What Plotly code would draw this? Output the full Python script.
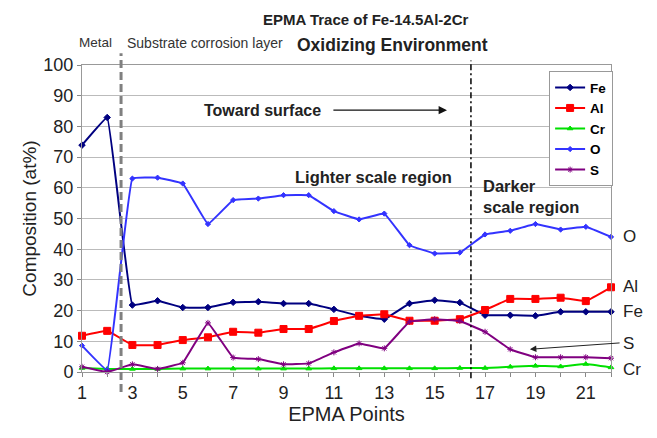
import plotly.graph_objects as go

points = list(range(1, 23))
fe = [73.9, 82.9, 21.8, 23.2, 21.0, 21.0, 22.7, 22.9, 22.3, 22.3, 20.4, 18.3,
      17.2, 22.3, 23.4, 22.6, 18.5, 18.5, 18.3, 19.6, 19.6, 19.6]
al = [11.8, 13.4, 8.8, 8.8, 10.4, 11.3, 13.1, 12.8, 14.0, 14.0, 16.6, 18.3,
      18.8, 16.7, 16.7, 17.2, 20.2, 23.8, 23.8, 24.2, 23.1, 27.6]
cr = [1.3, 1.0, 1.0, 1.0, 1.1, 1.1, 1.1, 1.1, 1.1, 1.1, 1.2, 1.2,
      1.2, 1.2, 1.2, 1.3, 1.3, 1.7, 2.0, 1.8, 2.6, 1.5]
o = [8.6, 0.6, 63.0, 63.3, 61.4, 48.2, 56.0, 56.5, 57.6, 57.6, 52.4, 49.7,
     51.6, 41.3, 38.6, 38.9, 44.8, 46.0, 48.2, 46.4, 47.3, 44.0]
s = [1.7, 0.0, 2.5, 1.0, 3.0, 16.0, 4.7, 4.2, 2.5, 2.8, 6.4, 9.3,
     7.7, 16.4, 17.2, 16.6, 13.1, 7.4, 4.8, 4.8, 4.8, 4.5]

tick_vals = list(range(1, 23))
tick_text = [str(v) if v % 2 == 1 else "" for v in tick_vals]
y_ticks = list(range(0, 101, 10))

FONT = "Liberation Sans, Arial, sans-serif"

series = [
    ("Fe", fe, "#000080", "diamond", 5),
    ("Al", al, "#FF0000", "square", 7),
    ("Cr", cr, "#00E000", "triangle-up", 5),
    ("O", o, "#3333FF", "diamond", 4),
    ("S", s, "#800080", "asterisk-open", 5),
]

fig = go.Figure()
for name, vals, color, sym, size in series:
    fig.add_trace(go.Scatter(
        x=points, y=vals, name=name, mode="lines+markers",
        line=dict(color=color, width=2, shape="spline", smoothing=0.2),
        marker=dict(symbol=sym, size=size, color=color,
                    line=dict(color=color, width=1)),
        cliponaxis=False,
    ))

fig.update_layout(
    width=657, height=438,
    margin=dict(l=82, r=46, t=65, b=66),
    paper_bgcolor="white", plot_bgcolor="white",
    font=dict(family=FONT, color="#111111"),
    showlegend=True,
    legend=dict(
        x=0.883, y=0.98, xanchor="left", yanchor="top",
        bgcolor="white", bordercolor="#999999", borderwidth=1,
        font=dict(size=13.5, family=FONT, color="#000000", weight="bold"),
        itemwidth=30, tracegroupgap=0,
    ),
)

fig.update_xaxes(
    range=[1, 22], tickvals=tick_vals, ticktext=tick_text,
    ticks="outside", ticklen=4, tickcolor="#888888",
    showline=True, linecolor="#999999", linewidth=1, mirror=True,
    showgrid=False, zeroline=False, automargin=False,
    tickfont=dict(size=18, family=FONT, color="#222222"),
    title=dict(text="EPMA Points", font=dict(size=20, family=FONT, color="#222222"),
               standoff=5),
)
fig.update_yaxes(
    range=[0, 100], tickvals=y_ticks,
    ticks="outside", ticklen=4, tickcolor="#888888",
    showline=True, linecolor="#999999", linewidth=1, mirror=True,
    showgrid=True, gridcolor="#BBBBBB", gridwidth=1, zeroline=False, automargin=False,
    tickfont=dict(size=18, family=FONT, color="#222222"),
    title=dict(text="Composition (at%)", font=dict(size=19, family=FONT, color="#222222"),
               standoff=1),
)

# vertical boundary lines
fig.add_shape(type="line", xref="x", yref="paper", x0=2.55, x1=2.55, y0=-0.065, y1=1.038,
              line=dict(color="#808080", width=3, dash="8px,4px"))
fig.add_shape(type="line", xref="x", yref="paper", x0=16.44, x1=16.44, y0=-0.02, y1=1.015,
              line=dict(color="#000000", width=1.5, dash="6px,3px,2px,3px"))

# titles
fig.add_annotation(text="<b>EPMA Trace of Fe-14.5Al-2Cr</b>", xref="paper", yref="paper",
                   x=(366 - 82) / 529, y=(372 - 20) / 307, xanchor="center", yanchor="middle",
                   showarrow=False, font=dict(size=15, family=FONT, color="#222222"))
fig.add_annotation(text="<b>Oxidizing Environment</b>", xref="paper", yref="paper",
                   x=(392 - 82) / 529, y=(372 - 45) / 307, xanchor="center", yanchor="middle",
                   showarrow=False, font=dict(size=17.5, family=FONT, color="#222222"))

# small labels above the plot
fig.add_annotation(text="Metal", xref="paper", yref="paper",
                   x=(77 - 82) / 529, y=(372 - 43) / 307, xanchor="left", yanchor="middle",
                   showarrow=False, font=dict(size=13.5, family=FONT, color="#333333"))
fig.add_annotation(text="Substrate corrosion layer", xref="paper", yref="paper",
                   x=(125 - 82) / 529, y=(372 - 43) / 307, xanchor="left", yanchor="middle",
                   showarrow=False, font=dict(size=14, family=FONT, color="#333333"))
fig.add_annotation(x=1.87, y=103.2, ax=2.43, ay=103.2, xref="x", yref="y", axref="x", ayref="y",
                   text="", showarrow=True, arrowhead=2, arrowsize=1, arrowwidth=1.2,
                   arrowcolor="#111111")
fig.add_annotation(x=3.42, y=103.2, ax=2.71, ay=103.2, xref="x", yref="y", axref="x", ayref="y",
                   text="", showarrow=True, arrowhead=2, arrowsize=1, arrowwidth=1.2,
                   arrowcolor="#111111")

# region labels
fig.add_annotation(text="<b>Toward surface</b>", x=1 + (262 - 82) / 25.19, y=85.3,
                   xref="x", yref="y", showarrow=False,
                   font=dict(size=16, family=FONT, color="#222222"))
fig.add_annotation(x=15.49, y=85.3, ax=10.92, ay=85.3, xref="x", yref="y", axref="x", ayref="y",
                   text="", showarrow=True, arrowhead=2, arrowsize=1.4, arrowwidth=1.2,
                   arrowcolor="#111111")
fig.add_annotation(text="<b>Lighter scale region</b>", x=1 + ((292 + 455) / 2 - 82) / 25.19,
                   y=(372 - 176.7) / 3.073, xref="x", yref="y", showarrow=False,
                   font=dict(size=16.5, family=FONT, color="#222222"))
fig.add_annotation(text="<b>Darker<br>scale region</b>", x=1 + (481 - 82) / 25.19,
                   y=(372 - 196.5) / 3.073, xref="x", yref="y", xanchor="left", align="left",
                   showarrow=False, font=dict(size=16.5, family=FONT, color="#222222"))

# right-hand element labels
for lab, py in [("O", 236.7), ("Al", 286.0), ("Fe", 311.7), ("S", 343.0), ("Cr", 369.0)]:
    fig.add_annotation(text=lab, xref="paper", yref="paper",
                       x=(621 - 82) / 529, y=(372 - py) / 307, xanchor="left", yanchor="middle",
                       showarrow=False, font=dict(size=17, family=FONT, color="#222222"))

# arrow from S label to S curve
fig.add_annotation(x=18.78, y=7.4, ax=22.4, ay=9.5, xref="x", yref="y", axref="x", ayref="y",
                   text="", showarrow=True, arrowhead=2, arrowsize=1.3, arrowwidth=1,
                   arrowcolor="#222222")

fig.write_html("out.html", config={"displayModeBar": False},
               post_script="document.body.style.margin='0px';")
